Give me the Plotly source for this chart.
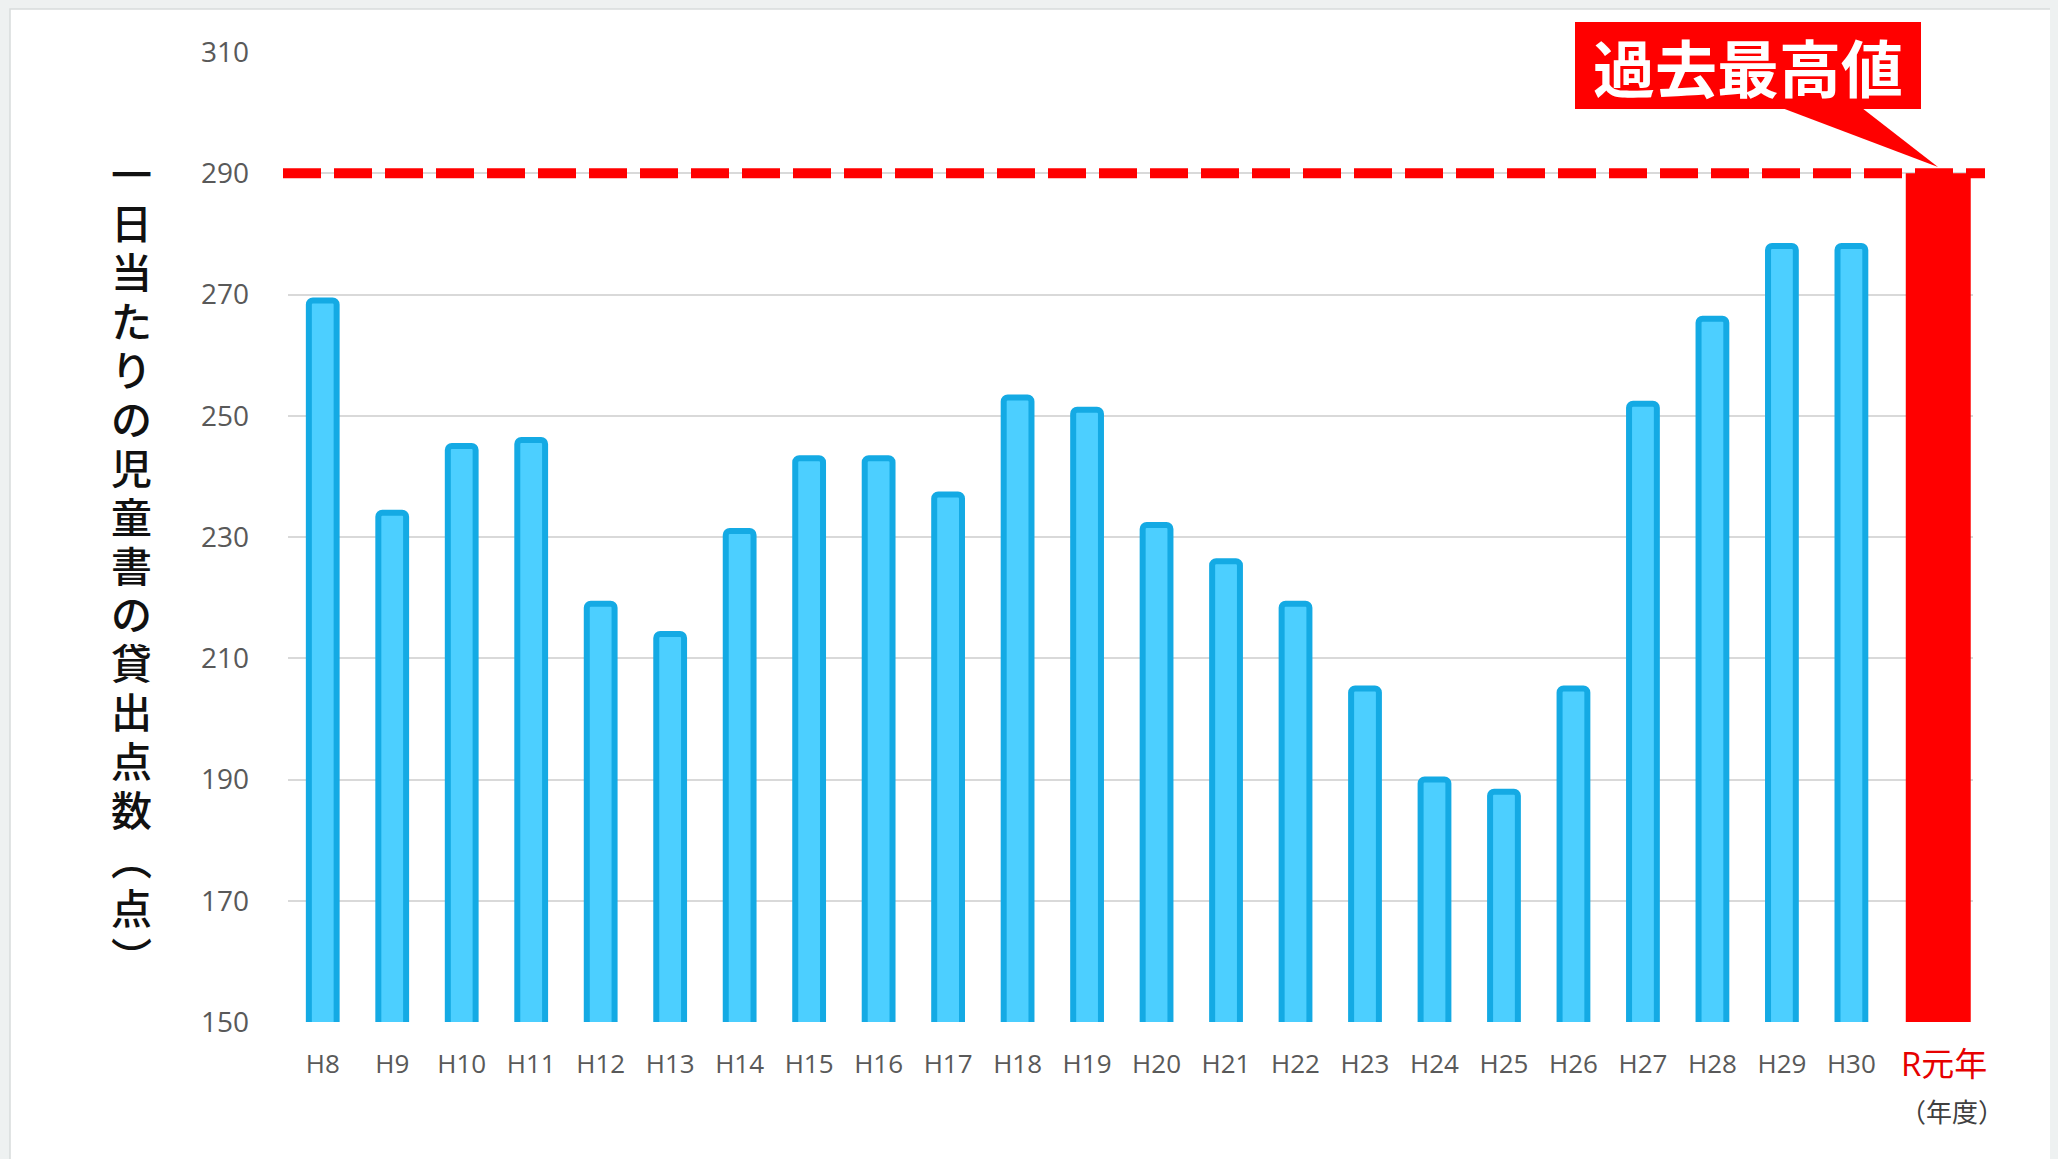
import plotly.graph_objects as go

categories = ["H8", "H9", "H10", "H11", "H12", "H13", "H14", "H15", "H16", "H17", "H18", "H19",
              "H20", "H21", "H22", "H23", "H24", "H25", "H26", "H27", "H28", "H29", "H30", "R元年"]
values = [269, 234, 245, 246, 219, 214, 231, 243, 243, 237, 253, 251,
          232, 226, 219, 205, 190, 188, 205, 252, 266, 278, 278, 290]
record_value = 290
y_ticks = [150, 170, 190, 210, 230, 250, 270, 290, 310]
y_title = "一日当たりの児童書の貸出点数︵点︶"
callout_text = "過去最高値"
unit_text = "（年度）"

OFF = 8  # page body margin
X_MAX = len(categories) - 0.25
W, H = 2058 - OFF, 1159 - OFF
L, T = 288 - OFF, 52 - OFF
R = W - (1973 - OFF)
B = H - (1022 - OFF)
PW, PH = W - L - R, H - T - B


def px(xw):
    return (xw - OFF - L) / PW


def py(yw):
    return (H - B - (yw - OFF)) / PH


idx = list(range(len(categories)))
blue_x = idx[:-1]
blue_y = values[:-1]

fig = go.Figure()
fig.add_trace(go.Bar(
    x=blue_x, y=blue_y, width=0.40,
    marker=dict(color="#4ccfff", line=dict(color="#14aae4", width=6), cornerradius=4),
    showlegend=False, hoverinfo="skip",
))
fig.add_trace(go.Bar(
    x=[idx[-1]], y=[values[-1]], width=0.935, offset=-0.2175,
    marker=dict(color="#ff0000", line=dict(width=0)),
    showlegend=False, hoverinfo="skip",
))

annotations = [
    dict(xref="paper", yref="paper", x=px(1748), y=py(66), text="<b>" + callout_text + "</b>",
         showarrow=False, xanchor="center", yanchor="middle",
         font=dict(family="Noto Sans CJK JP", size=62, color="#ffffff")),
    dict(xref="x", yref="paper", x=idx[-1], xshift=23, y=py(1063), text=categories[-1],
         showarrow=False, xanchor="center", yanchor="middle",
         font=dict(family="Open Sans, Noto Sans CJK JP", size=33, color="#e60000")),
    dict(xref="paper", yref="paper", x=px(1952), y=py(1110), text=unit_text,
         showarrow=False, xanchor="center", yanchor="middle",
         font=dict(family="Noto Sans CJK JP", size=26, color="#404040")),
]
n = len(y_title)
for i, ch in enumerate(y_title):
    yc = 172 + i * (955 - 172) / (n - 1)
    annotations.append(dict(
        xref="paper", yref="paper", x=px(131), y=py(yc), text=ch,
        showarrow=False, xanchor="center", yanchor="middle",
        font=dict(family="Noto Sans CJK JP", size=41, color="#111111", weight=500)))

fig.update_layout(
    width=W, height=H,
    margin=dict(l=L, r=R, t=T, b=B),
    paper_bgcolor="#eef1f1",
    plot_bgcolor="rgba(0,0,0,0)",
    barmode="overlay",
    font=dict(family="Open Sans", color="#595959"),
    xaxis=dict(
        range=[-0.5, X_MAX],
        tickmode="array", tickvals=blue_x, ticktext=categories[:-1], tickangle=0,
        tickfont=dict(size=26, color="#595959", family="Open Sans"),
        showgrid=False, zeroline=False, showline=False, ticks="",
        ticklabelstandoff=24, fixedrange=True,
    ),
    yaxis=dict(
        range=[150, 310], tickvals=y_ticks,
        tickfont=dict(size=28, color="#595959", family="Open Sans"),
        showgrid=True, gridcolor="#d9d9d9", gridwidth=1.5,
        zeroline=False, showline=False, ticks="",
        ticklabelstandoff=38, fixedrange=True,
    ),
    shapes=[
        dict(type="rect", xref="paper", yref="paper", layer="below",
             x0=px(10), x1=px(2080), y0=py(1180), y1=py(9),
             fillcolor="#ffffff", line=dict(color="#d8dcdc", width=1.5)),
        dict(type="line", xref="paper", yref="y", x0=px(283), x1=px(1985),
             y0=record_value, y1=record_value,
             line=dict(color="#ff0000", width=10, dash="38px,13px")),
        dict(type="rect", xref="paper", yref="paper",
             x0=px(1575), x1=px(1921), y0=py(109), y1=py(22),
             fillcolor="#ff0000", line=dict(width=0)),
        dict(type="path", xref="paper", yref="paper",
             path=f"M {px(1782)} {py(108)} L {px(1938)} {py(167)} L {px(1862)} {py(108)} Z",
             fillcolor="#ff0000", line=dict(width=0)),
    ],
    annotations=annotations,
)

fig.write_html("out.html", post_script="document.body.style.background='#eef1f1';")
